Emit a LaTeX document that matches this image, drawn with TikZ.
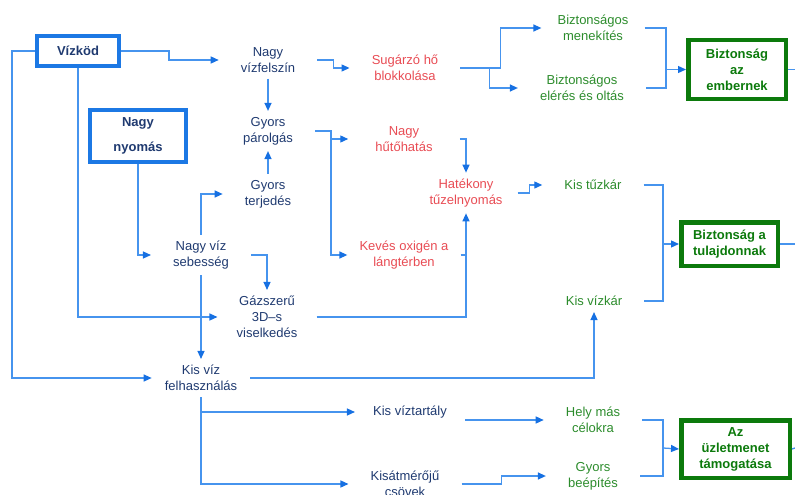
\documentclass[tikz,border=0pt]{standalone}
\usepackage{fontspec}
\setmainfont{Liberation Sans}
\usepackage{xcolor}
\definecolor{vizkek}{RGB}{31,58,112}
\definecolor{vonalkek}{RGB}{70,148,238}
\definecolor{nyilkek}{RGB}{22,112,226}
\definecolor{keretkek}{RGB}{28,120,228}
\definecolor{piros}{RGB}{232,76,84}
\definecolor{zold}{RGB}{44,140,44}
\definecolor{sotetzold}{RGB}{12,122,12}
\usepackage{tikz}
\usetikzlibrary{arrows.meta,calc}

\begin{document}
\begin{tikzpicture}[x=1pt,y=-1pt,
	every node/.style={font=\fontsize{13}{16}\selectfont, align=center},
	txt/.style={inner xsep=22pt, inner ysep=6pt, text=vizkek},
	hot/.style={txt, text=piros},
	jo/.style={txt, text=zold},
	kekdoboz/.style={draw=keretkek, line width=4pt, inner sep=0pt, text=vizkek, font=\fontsize{13}{16}\selectfont\bfseries},
	zolddoboz/.style={draw=sotetzold, line width=4.5pt, inner sep=0pt, text=sotetzold, font=\fontsize{13}{16}\selectfont\bfseries},
	vonal/.style={draw=vonalkek, line width=1.3pt},
	nyil/.style={vonal, -{Triangle[length=8pt,width=7pt,color=nyilkek]}}]
	\useasboundingbox (0,0) rectangle (795,495);
	
	% draw boxes
	\node[kekdoboz, minimum width=82pt, minimum height=30pt] (vizkod) at (78,51) {Vízköd};
	\node[kekdoboz, minimum width=96pt, minimum height=52pt] (nyomas) at (138,136) {Nagy\\[9pt]nyomás};
	\node[zolddoboz, minimum width=97.5pt, minimum height=58.5pt] (embernek) at (737,69.5) {Biztonság\\az\\embernek};
	\node[zolddoboz, minimum width=96.5pt, minimum height=43.5pt] (tulajdon) at (729.5,244) {Biztonság a\\tulajdonnak};
	\node[zolddoboz, minimum width=108.5pt, minimum height=57.5pt] (uzlet) at (735.5,449) {Az\\üzletmenet\\támogatása};
	
	% draw texts
	\node[txt] (felszin) at (268,60) {Nagy\\vízfelszín};
	\node[txt] (parolgas) at (268,131) {Gyors\\párolgás};
	\node[txt] (terjedes) at (268,194) {Gyors\\terjedés};
	\node[txt] (sebesseg) at (201,255) {Nagy víz\\sebesség};
	\node[txt, inner xsep=19pt] (gazszeru) at (267,317) {Gázszerű\\3D–s\\viselkedés};
	\node[txt, inner xsep=13pt] (felhasz) at (201,378) {Kis víz\\felhasználás};
	\node[txt, inner xsep=18pt] (tartaly) at (410,412) {Kis víztartály};
	\node[txt] (csovek) at (405,484) {Kisátmérőjű\\csövek};
	\node[hot] (sugarzo) at (405,68) {Sugárzó hő\\blokkolása};
	\node[hot, inner xsep=27pt] (hutohatas) at (404,139) {Nagy\\hűtőhatás};
	\node[hot, inner xsep=15pt] (hatekony) at (466,193) {Hatékony\\tűzelnyomás};
	\node[hot, inner xsep=12pt] (kevesoxi) at (404,255) {Kevés oxigén a\\lángtérben};
	\node[jo, inner xsep=16pt] (menekites) at (593,28) {Biztonságos\\menekítés};
	\node[jo] (eleres) at (582,88) {Biztonságos\\elérés és oltás};
	\node[jo] (tuzkar) at (593,185) {Kis tűzkár};
	\node[jo] (vizkar) at (594,301) {Kis vízkár};
	\node[jo] (hely) at (593,420) {Hely más\\célokra};
	\node[jo] (beepites) at (593,476) {Gyors\\beépítés};
	
	%%% connectors
	\draw[nyil] (vizkod.east) -- ++(48,0) |- (felszin.west);
	\draw[nyil] (vizkod.west) -- ++(-23,0) |- (felhasz.west);
	\draw[nyil] (vizkod.south) |- (gazszeru.west);
	\draw[nyil] (nyomas.south) |- (sebesseg.west);
	\draw[nyil] (sebesseg.north) |- (terjedes.west);
	\draw[nyil] (sebesseg.south) -- (felhasz.north);
	\draw[nyil] (sebesseg.east) -| (gazszeru.north);
	\draw[nyil] (felszin.south) -- (parolgas.north);
	\draw[nyil] (terjedes.north) -- (parolgas.south);
	\draw[nyil] (felszin.east) -- ++(16,0) |- (sugarzo.west);
	\draw[nyil] (parolgas.east) -- ++(16,0) coordinate (pj) |- (kevesoxi.west);
	\draw[nyil] (pj |- hutohatas.west) -- (hutohatas.west);
	\draw[nyil] (hutohatas.east) -| (hatekony.north);
	\draw[nyil] (gazszeru.east) -| (hatekony.south);
	\draw[vonal] (kevesoxi.east) -- (kevesoxi.east -| hatekony.south);
	\draw[nyil] (hatekony.east) -- ++(12,0) |- (tuzkar.west);
	\draw[nyil] (sugarzo.east) -- ++(40,0) |- (menekites.west);
	\draw[nyil] ($(sugarzo.east)+(29,0)$) |- (eleres.west);
	\draw[nyil] (felhasz.east) -| (vizkar.south);
	\draw[nyil] (felhasz.south) |- (csovek.west);
	\draw[nyil] (felhasz.south |- tartaly.west) -- (tartaly.west);
	\draw[nyil] (tartaly.east |- hely.west) -- (hely.west);
	\draw[nyil] (csovek.east) -- ++(40,0) |- (beepites.west);
	
	%%% brackets
	\coordinate (j1) at (666,69.5);
	\draw[vonal] (menekites.east) -| (j1) |- (eleres.east);
	\draw[nyil] (j1) -- (embernek.west);
	\coordinate (j2) at (663,244);
	\draw[vonal] (tuzkar.east) -| (j2) |- (vizkar.east);
	\draw[nyil] (j2) -- (tulajdon.west);
	\coordinate (j3) at (663,448);
	\draw[vonal] (hely.east) -| (j3) |- (beepites.east);
	\draw[nyil] (j3) -- (uzlet.west);
	
	% outgoing
	\coordinate (ki1) at (795,69.5);
	\coordinate (ki2) at (795,244);
	\coordinate (ki3) at (795,448);
	\draw[vonal] (embernek.east) -- (ki1);
	\draw[vonal] (tulajdon.east) -- (ki2);
	\draw[vonal] (uzlet.east) -- (ki3);
\end{tikzpicture}
\end{document}
